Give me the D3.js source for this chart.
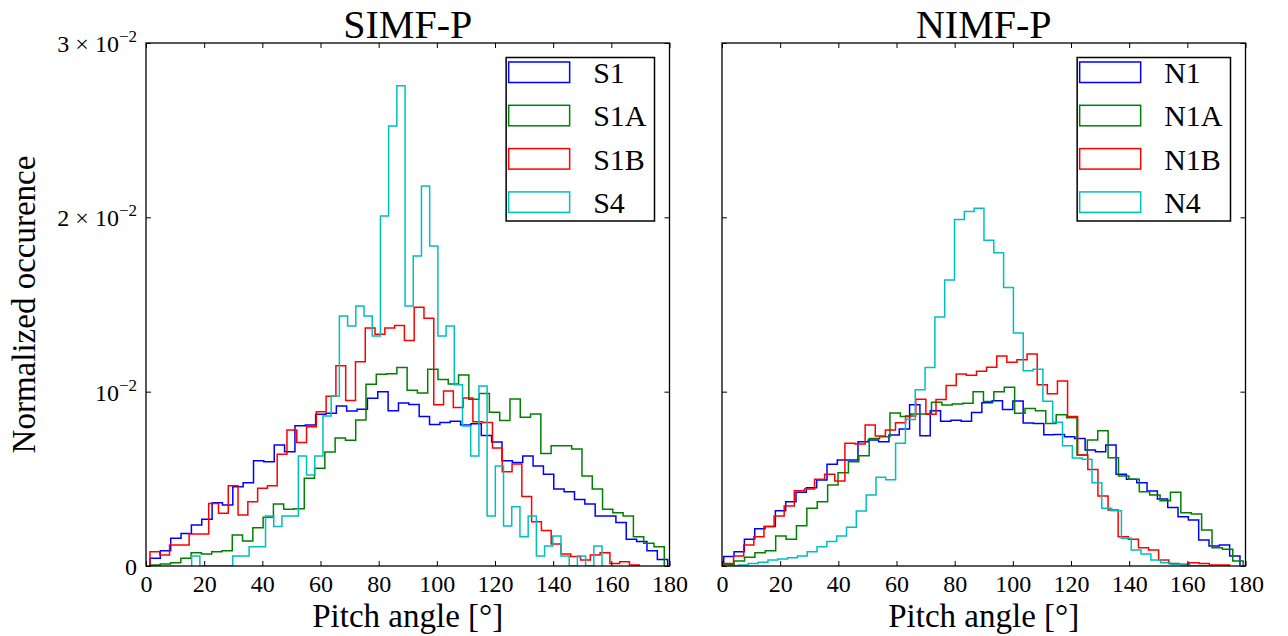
<!DOCTYPE html>
<html>
<head>
<meta charset="utf-8">
<script src="https://cdn.jsdelivr.net/npm/d3@7"></script>
<style>
body{margin:0;background:#fff;}
svg text{font-family:"Liberation Serif",serif;fill:#000;}
</style>
</head>
<body>
<svg id="chart" width="1288" height="636"></svg>
<script>
// histogram heights are in units of 1e-3 (normalized occurence), 50 bins per series
const unit=1e-3;
const simfNames=["S1","S1A","S1B","S4"];
const nimfNames=["N1","N1A","N1B","N4"];
const colors=["#0000ff","#008000","#ff0000","#00bfbf"];
// first and last bin edge of each series, in degrees
const simfRange=[[1.37,179.37],[1.37,178.2],[1.37,169.6],[15.7,156.8]];
const nimfRange=[[0.6,178.1],[0.6,179.2],[0.5,174.5],[2.3,171.1]];

const s1=[0.44,0.88,1.59,1.87,2.35,2.68,3.63,3.50,4.55,4.78,
	6.04,5.98,6.94,6.56,8.05,8.09,8.70,8.76,9.18,8.89,
	8.99,9.62,10.0,8.91,9.35,9.27,8.58,8.12,8.23,8.30,
	8.09,8.16,7.48,7.11,6.04,5.93,6.31,5.74,5.26,4.42,
	4.26,3.82,3.56,2.87,2.87,2.49,1.53,1.40,0.88,0.38];
const s1a=[0.06,0.11,0.19,0.44,0.76,0.69,0.82,0.88,1.78,1.43,
	2.20,2.79,3.56,3.25,3.29,5.03,5.60,6.54,7.34,7.21,
	8.37,10.43,11.0,11.03,11.39,10.08,9.92,11.28,10.7,10.44,
	10.96,9.56,9.90,8.82,8.35,9.58,8.53,8.72,6.46,6.90,
	6.90,6.71,5.16,4.42,3.25,3.06,2.87,1.68,1.30,1.11];
const s1b=[0.82,0.63,1.20,1.20,1.84,1.84,3.59,3.02,4.61,2.93,
	3.69,4.46,4.61,6.41,7.80,7.09,7.99,8.85,9.73,11.48,
	9.50,11.72,13.65,13.30,13.65,13.80,12.93,14.84,14.21,9.25,
	10.04,9.09,9.64,8.28,8.23,6.77,5.41,5.85,3.98,2.54,
	2.03,1.26,0.69,0.54,0.34,0.63,0.76,0.15,0.25,0.06];
const s4=[0.57,0,0,0,0,0.57,0.57,1.11,1.11,2.87,
	2.26,2.87,2.87,6.31,5.22,6.31,8.60,9.75,14.34,13.77,
	14.91,14.34,13.19,20.08,25.24,27.55,14.91,17.78,21.80,18.36,
	13.19,13.77,10.40,8.03,6.31,10.33,2.87,5.74,2.29,3.40,
	1.68,2.87,0.57,1.15,1.72,0.57,0,0.57,0,1.15];

const n1=[0.54,0.82,1.53,2.14,2.26,3.17,3.69,4.23,4.49,4.93,
	5.83,6.08,6.08,7.13,7.23,7.13,7.51,7.86,9.25,7.47,
	8.91,8.31,8.36,8.30,8.80,9.36,9.48,8.98,9.46,8.20,
	8.18,7.53,7.54,7.42,7.32,6.65,6.56,6.94,5.26,4.97,
	4.78,4.30,3.84,3.35,2.83,2.64,1.49,1.15,1.20,0.57];
const n1a=[0.08,0.29,0.50,0.76,0.88,1.72,1.53,2.31,3.31,3.69,
	4.65,5.35,5.98,6.33,7.32,7.42,8.78,8.58,8.72,8.72,
	9.39,9.24,9.29,9.33,10.0,9.43,10.0,10.25,8.76,9.04,
	8.90,8.18,8.68,8.50,6.37,7.23,7.76,6.21,5.16,4.97,
	4.26,4.07,3.75,4.23,3.06,2.98,2.07,1.05,0.96,0.29];
const n1b=[0.15,0.57,1.20,1.68,2.26,2.87,3.44,4.32,4.42,4.97,
	5.26,4.88,7.04,7.00,8.09,7.46,7.80,8.22,8.60,9.57,
	8.70,9.55,10.36,11.02,10.94,11.17,11.40,12.05,11.69,11.83,
	12.16,10.40,9.88,10.61,8.57,6.37,5.54,4.02,3.21,1.68,
	1.53,1.05,0.92,0.34,0.15,0.10,0.19,0.15,0.06,0.06];
const n4=[0.02,0.06,0.15,0.21,0.34,0.40,0.48,0.57,0.82,1.11,
	1.40,1.72,2.22,3.15,4.07,5.09,4.95,7.04,8.40,10.11,
	11.38,14.28,16.40,19.87,20.34,20.52,18.68,17.97,15.97,13.36,
	11.20,11.28,9.45,8.25,6.90,6.20,6.12,4.78,3.31,3.17,
	1.59,0.92,0.69,0.34,0.19,0.10,0.06,0.02,0.02,0.02];

const xTicks=[0,20,40,60,80,100,120,140,160,180];
const yTicks=[0,0.01,0.02,0.03];
const yTickLabels=[["0",""],["10","−2"],["2 × 10","−2"],["3 × 10","−2"]];

window.onload=function(){
	const svg=d3.select("#chart");
	const yBottom=566,yTop=43;
	const yScale=d3.scaleLinear().domain([0,0.03]).range([yBottom,yTop]);

	//one panel of step histograms
	function drawPanel(p){
		const xScale=d3.scaleLinear().domain([0,180]).range([p.x0,p.x1]);
		const g=svg.append("g");
		svg.append("clipPath").attr("id","clip"+p.id)
			.append("rect")
				.attr("x",p.x0).attr("y",yTop)
				.attr("width",p.x1-p.x0).attr("height",yBottom-yTop);

		const line=d3.line()
			.x(function(d){return xScale(d[0]);})
			.y(function(d){return yScale(d[1]*unit);})
			.curve(d3.curveStepAfter);
		p.series.forEach(function(vals,k){
			const lo=p.ranges[k][0],hi=p.ranges[k][1],w=(hi-lo)/vals.length;
			const pts=[[lo,0]];
			vals.forEach(function(v,i){pts.push([lo+i*w,v]);});
			pts.push([hi,vals[vals.length-1]]);
			pts.push([hi,0]);
			g.append("path")
				.attr("d",line(pts))
				.attr("fill","none")
				.attr("stroke",colors[k])
				.attr("stroke-width",1.5)
				.attr("stroke-linejoin","miter")
				.attr("clip-path","url(#clip"+p.id+")");
		});

		//ticks on all four sides, pointing inward
		const bottom=g.append("g")
			.attr("transform","translate(0,"+yBottom+")")
			.call(d3.axisBottom(xScale).tickValues(xTicks).tickSizeInner(-5).tickSizeOuter(0).tickPadding(9));
		bottom.selectAll("text").style("font-size","24px");
		g.append("g")
			.attr("transform","translate(0,"+yTop+")")
			.call(d3.axisTop(xScale).tickValues(xTicks).tickSizeInner(-5).tickSizeOuter(0).tickFormat(""));
		const left=g.append("g")
			.attr("transform","translate("+p.x0+",0)")
			.call(d3.axisLeft(yScale).tickValues(yTicks).tickSizeInner(-5).tickSizeOuter(0).tickPadding(9).tickFormat(""));
		g.append("g")
			.attr("transform","translate("+p.x1+",0)")
			.call(d3.axisRight(yScale).tickValues(yTicks).tickSizeInner(-5).tickSizeOuter(0).tickFormat(""));
		g.selectAll(".domain").remove();
		g.selectAll(".tick line").attr("stroke","#000").attr("stroke-width",1);

		if(p.yLabels){
			left.selectAll(".tick text").each(function(d){
				const lab=yTickLabels[yTicks.indexOf(d)];
				const t=d3.select(this).style("font-size","24px").attr("dy","0.35em").text(lab[0]);
				if(lab[1]) t.append("tspan").attr("dy",-10).style("font-size","17px").text(lab[1]);
			});
		}

		//frame
		g.append("rect")
			.attr("x",p.x0).attr("y",yTop)
			.attr("width",p.x1-p.x0).attr("height",yBottom-yTop)
			.attr("fill","none").attr("stroke","#000").attr("stroke-width",1.3);

		//title and x label
		g.append("text")
			.attr("x",(p.x0+p.x1)/2).attr("y",38)
			.attr("text-anchor","middle")
			.style("font-size","40px")
			.text(p.title);
		g.append("text")
			.attr("x",(p.x0+p.x1)/2).attr("y",627)
			.attr("text-anchor","middle")
			.style("font-size","33px")
			.text("Pitch angle [°]");

		//legend
		const lg=g.append("g");
		const box=lg.append("rect")
			.attr("y",57.5).attr("height",163.5)
			.attr("fill","#fff").attr("stroke","#000").attr("stroke-width",1.5);
		let maxW=0;
		const labels=[];
		p.names.forEach(function(name,k){
			labels.push(lg.append("text")
				.attr("y",83+k*43.3)
				.style("font-size","30px")
				.text(name));
			lg.append("rect")
				.attr("class","patch")
				.attr("y",62+k*43.3)
				.attr("width",61).attr("height",20.5)
				.attr("fill","none").attr("stroke",colors[k]).attr("stroke-width",1.5);
			maxW=Math.max(maxW,labels[k].node().getComputedTextLength());
		});
		const boxW=87+maxW+8,bx=p.x1-15-boxW;
		box.attr("x",bx).attr("width",boxW);
		lg.selectAll(".patch").attr("x",bx+2.5);
		labels.forEach(function(t){t.attr("x",bx+87);});
	}

	drawPanel({id:0,x0:146,x1:669.5,title:"SIMF-P",names:simfNames,ranges:simfRange,series:[s1,s1a,s1b,s4],yLabels:true});
	drawPanel({id:1,x0:722,x1:1245.5,title:"NIMF-P",names:nimfNames,ranges:nimfRange,series:[n1,n1a,n1b,n4],yLabels:false});

	svg.append("text")
		.attr("transform","translate(35,"+((yTop+yBottom)/2)+") rotate(-90)")
		.attr("text-anchor","middle")
		.style("font-size","33px")
		.text("Normalized occurence");
};
</script>
</body>
</html>
